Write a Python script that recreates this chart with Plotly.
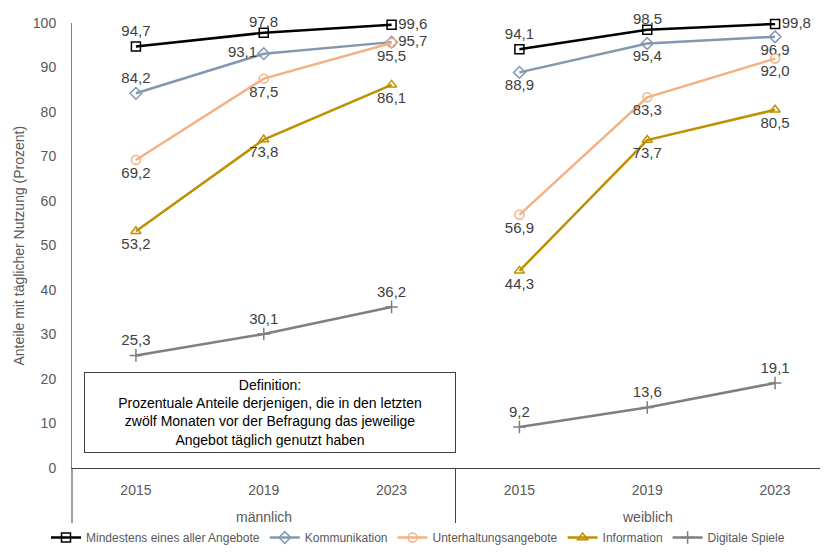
import plotly.graph_objects as go

years = ["2015", "2019", "2023"]
groups = ["männlich", "weiblich"]
series_names = ["Mindestens eines aller Angebote", "Kommunikation", "Unterhaltungsangebote",
                "Information", "Digitale Spiele"]

mindestens_m = [94.7, 97.8, 99.6]
mindestens_w = [94.1, 98.5, 99.8]
kommunikation_m = [84.2, 93.1, 95.7]
kommunikation_w = [88.9, 95.4, 96.9]
unterhaltung_m = [69.2, 87.5, 95.5]
unterhaltung_w = [56.9, 83.3, 92.0]
information_m = [53.2, 73.8, 86.1]
information_w = [44.3, 73.7, 80.5]
spiele_m = [25.3, 30.1, 36.2]
spiele_w = [9.2, 13.6, 19.1]

colors = ["#000000", "#8497B0", "#F4B183", "#BF9000", "#7F7F7F"]
symbols = ["square-open", "diamond-open", "circle-open", "triangle-up-open", "cross-thin"]
sizes = [9, 9, 9, 9, 9]

# "near" = label placed as an annotation just above the point (close to the top edge)
pos_m = [
    ["top center", "near", "middle right"],
    ["top center", "middle left", "middle right"],
    ["bottom center", "bottom center", "bottom center"],
    ["bottom center", "bottom center", "bottom center"],
    ["top center", "top center", "top center"],
]
pos_w = [
    ["top center", "near", "middle right"],
    ["bottom center", "bottom center", "bottom center"],
    ["bottom center", "bottom center", "bottom center"],
    ["bottom center", "bottom center", "bottom center"],
    ["top center", "top center", "top center"],
]

data_m = [mindestens_m, kommunikation_m, unterhaltung_m, information_m, spiele_m]
data_w = [mindestens_w, kommunikation_w, unterhaltung_w, information_w, spiele_w]

def fmt(v):
    return f"{v:.1f}".replace(".", ",")

label_font = dict(size=15, color="#404040", family="Liberation Sans, Arial")
annotations = []

fig = go.Figure()
x_m = [0, 1, 2]
x_w = [3, 4, 5]
for i, name in enumerate(series_names):
    for gi, (xs, vals, pos) in enumerate([(x_m, data_m[i], pos_m[i]), (x_w, data_w[i], pos_w[i])]):
        texts, tpos = [], []
        for xv, v, p in zip(xs, vals, pos):
            if p == "near":
                texts.append("")
                tpos.append("top center")
                annotations.append(dict(x=xv, y=v, xref="x", yref="y", text=fmt(v),
                                        showarrow=False, yshift=11, yanchor="middle",
                                        font=label_font))
            else:
                texts.append(fmt(v))
                tpos.append(p)
        fig.add_trace(go.Scatter(
            x=xs, y=vals, mode="lines+markers+text",
            name=name, legendgroup=name, showlegend=(gi == 0),
            line=dict(color=colors[i], width=2.5),
            marker=dict(symbol=symbols[i], size=sizes[i], color=colors[i],
                        line=dict(color=colors[i], width=1.5)),
            text=texts, textposition=tpos, textfont=label_font,
            cliponaxis=False,
        ))

# page body has an 8px margin: figure is 8px smaller and offset
W, H = 820, 544
ML, MT, MB, MR = 64, 15, 84, 0
xmin, xmax = -0.5, 5.414
fig.update_xaxes(range=[xmin, xmax], tickvals=[0, 1, 2, 3, 4, 5], ticktext=years * 2,
                 showgrid=False, zeroline=False, showline=True, linecolor="#404040",
                 linewidth=1, ticks="", ticklabelstandoff=9, automargin=False,
                 tickfont=dict(size=14, color="#595959"))
fig.update_yaxes(range=[0, 100], dtick=10, showgrid=False, zeroline=False, showline=True,
                 linecolor="#808080", linewidth=1, ticks="", ticklabelstandoff=12,
                 automargin=False, tickfont=dict(size=14, color="#595959"))

div = (2.5 - xmin) / (xmax - xmin)
shapes = []
for xp in [0, div]:
    shapes.append(dict(type="line", xref="paper", yref="paper", x0=xp, x1=xp,
                       y0=0, y1=-0.133, line=dict(color="#404040", width=1)))

for gx, g in zip([1, 4], groups):
    annotations.append(dict(x=gx, y=-0.11, xref="x", yref="paper", text=g, showarrow=False,
                            font=dict(size=14, color="#595959"), yanchor="middle"))
annotations.append(dict(x=(10 - ML) / (W - ML - MR), y=0.5, xref="paper", yref="paper",
                        xanchor="center", yanchor="middle", showarrow=False,
                        text="Anteile mit täglicher Nutzung (Prozent)", textangle=-90,
                        font=dict(size=14, color="#595959")))
annotations.append(dict(
    x=1.05, y=12.4, xref="x", yref="y", showarrow=False,
    text="Definition:<br>Prozentuale Anteile derjenigen, die in den letzten<br>"
         "zwölf Monaten vor der Befragung das jeweilige<br>Angebot täglich genutzt haben",
    font=dict(size=14, color="#000000"), align="center",
    bordercolor="#404040", borderwidth=1, borderpad=4, bgcolor="white", width=362))

fig.update_layout(
    width=W, height=H,
    margin=dict(l=ML, r=MR, t=MT, b=MB),
    paper_bgcolor="white", plot_bgcolor="white",
    font=dict(family="Liberation Sans, Arial", color="#595959"),
    shapes=shapes, annotations=annotations,
    legend=dict(orientation="h", x=0.5, xanchor="center", xref="container",
                y=0.0, yanchor="bottom", yref="container",
                font=dict(size=12, color="#595959"), tracegroupgap=0,
                itemwidth=30),
)

fig.write_html("out.html")
